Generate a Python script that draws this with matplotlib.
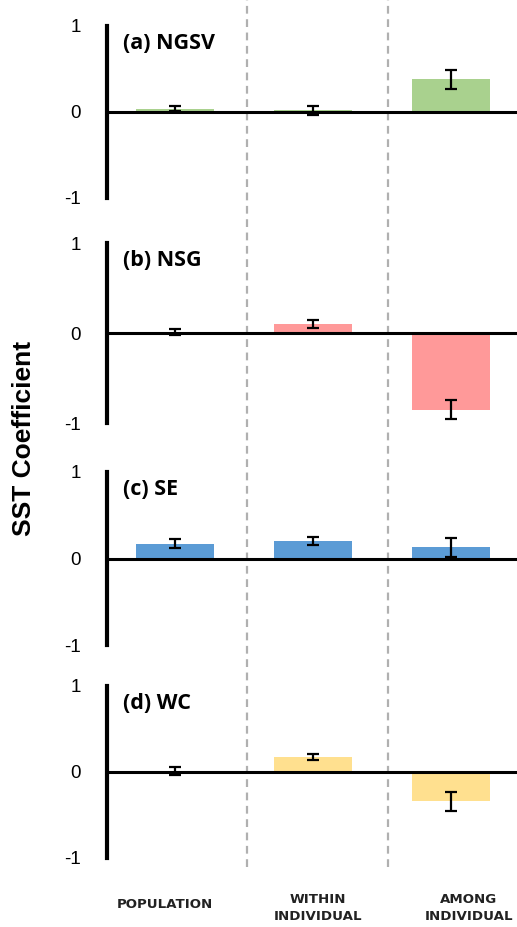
import numpy as np
import matplotlib
matplotlib.use("Agg")
import matplotlib.pyplot as plt
from matplotlib.lines import Line2D

# SST coefficients by scale of analysis, one panel per region
categories = ["POPULATION", "WITHIN\nINDIVIDUAL", "AMONG\nINDIVIDUAL"]
panel_titles = ["(a) NGSV", "(b) NSG", "(c) SE", "(d) WC"]

ngsv_coef = [0.04, 0.02, 0.38]
ngsv_err = [0.03, 0.05, 0.11]
nsg_coef = [0.01, 0.10, -0.85]
nsg_err = [0.03, 0.04, 0.11]
se_coef = [0.17, 0.20, 0.13]
se_err = [0.05, 0.045, 0.11]
wc_coef = [0.01, 0.18, -0.34]
wc_err = [0.05, 0.035, 0.11]

coefs = [ngsv_coef, nsg_coef, se_coef, wc_coef]
errs = [ngsv_err, nsg_err, se_err, wc_err]
colors = ["#a9d18e", "#ff9999", "#5b9bd5", "#ffe08f"]

W, H = 517, 927
fig = plt.figure(figsize=(W / 100, H / 100), dpi=100)

# panel extents in pixels: (top of y-axis, bottom of y-axis)
panel_px = [(26, 198), (243, 423), (472, 645), (686, 858)]
left_px, right_px = 107, 517

x = np.arange(len(categories))
axes = []
for i, (top, bot) in enumerate(panel_px):
    ax = fig.add_axes([left_px / W, 1 - bot / H, (right_px - left_px) / W, (bot - top) / H])
    ax.bar(x, coefs[i], width=0.565, color=colors[i], zorder=2)
    ax.errorbar(x, coefs[i], yerr=errs[i], fmt="none", ecolor="black",
                elinewidth=1.6, capsize=4.3, capthick=1.6, zorder=3)
    ax.axhline(0, color="black", lw=2.2, zorder=4)
    ax.set_xlim(-0.493, 2.478)
    ax.set_ylim(-1, 1)
    ax.set_yticks([-1, 0, 1])
    ax.set_yticklabels(["-1", "0", "1"], fontsize=13.5, family="Liberation Sans")
    ax.tick_params(axis="y", length=0, pad=19)
    ax.set_xticks([])
    for s in ["top", "right", "bottom"]:
        ax.spines[s].set_visible(False)
    ax.spines["left"].set_linewidth(3)
    ax.patch.set_alpha(0)
    ax.text(0.04, 0.9, panel_titles[i], transform=ax.transAxes,
            fontsize=15.5, fontweight="bold", family="Open Sans", va="center")
    axes.append(ax)

# dashed separators running down the whole figure
for sep in [0.52, 1.54]:
    xf = axes[0].transData.transform((sep, 0))[0] / W
    fig.add_artist(Line2D([xf, xf], [1 - 867 / H, 1.0], color="#b0b0b0",
                          lw=1.6, ls=(0, (3.5, 2.5)), zorder=0))

# category labels under the last panel (nudged a little off the bar centres)
label_shift = [-10, 5, 18]
for xi, lab, dx in zip(x, categories, label_shift):
    xf = (axes[-1].transData.transform((xi, 0))[0] + dx) / W
    yc = 908 if "\n" in lab else 905
    fig.text(xf, 1 - yc / H, lab, ha="center", va="center", fontsize=9.6,
             fontweight="bold", family="DejaVu Sans", color="#222222", linespacing=1.45)

fig.text(24 / W, 1 - 438 / H, "SST Coefficient", rotation=90, ha="center", va="center",
         fontsize=19, fontweight="bold", family="Liberation Sans")

fig.savefig("out.png", dpi=100)
